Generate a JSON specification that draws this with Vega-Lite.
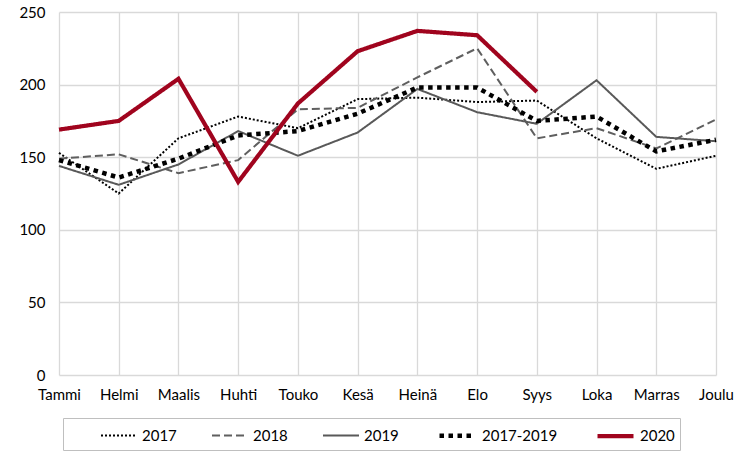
{
  "$schema": "https://vega.github.io/schema/vega-lite/v6.json",
  "autosize": "none",
  "width": 657,
  "height": 363,
  "padding": {"left": 59, "top": 12, "right": 24, "bottom": 79},
  "background": "white",
  "config": {
    "view": {"stroke": null},
    "font": "Lato",
    "axis": {"grid": true, "gridColor": "#d9d9d9", "gridWidth": 1.3, "domain": false, "ticks": false, "labelFont": "Lato", "labelFontSize": 15, "labelColor": "#000000", "title": null}
  },
  "data": {"values": [
    {"kk": "Tammi", "sarja": "2017", "v": 153},
    {"kk": "Helmi", "sarja": "2017", "v": 125},
    {"kk": "Maalis", "sarja": "2017", "v": 163},
    {"kk": "Huhti", "sarja": "2017", "v": 178},
    {"kk": "Touko", "sarja": "2017", "v": 170},
    {"kk": "Kesä", "sarja": "2017", "v": 190},
    {"kk": "Heinä", "sarja": "2017", "v": 191},
    {"kk": "Elo", "sarja": "2017", "v": 188},
    {"kk": "Syys", "sarja": "2017", "v": 189},
    {"kk": "Loka", "sarja": "2017", "v": 163},
    {"kk": "Marras", "sarja": "2017", "v": 142},
    {"kk": "Joulu", "sarja": "2017", "v": 151},
    {"kk": "Tammi", "sarja": "2018", "v": 149},
    {"kk": "Helmi", "sarja": "2018", "v": 152},
    {"kk": "Maalis", "sarja": "2018", "v": 139},
    {"kk": "Huhti", "sarja": "2018", "v": 148},
    {"kk": "Touko", "sarja": "2018", "v": 183},
    {"kk": "Kesä", "sarja": "2018", "v": 184},
    {"kk": "Heinä", "sarja": "2018", "v": 205},
    {"kk": "Elo", "sarja": "2018", "v": 225},
    {"kk": "Syys", "sarja": "2018", "v": 163},
    {"kk": "Loka", "sarja": "2018", "v": 170},
    {"kk": "Marras", "sarja": "2018", "v": 156},
    {"kk": "Joulu", "sarja": "2018", "v": 176},
    {"kk": "Tammi", "sarja": "2019", "v": 144},
    {"kk": "Helmi", "sarja": "2019", "v": 131},
    {"kk": "Maalis", "sarja": "2019", "v": 145},
    {"kk": "Huhti", "sarja": "2019", "v": 168},
    {"kk": "Touko", "sarja": "2019", "v": 151},
    {"kk": "Kesä", "sarja": "2019", "v": 167},
    {"kk": "Heinä", "sarja": "2019", "v": 197},
    {"kk": "Elo", "sarja": "2019", "v": 181},
    {"kk": "Syys", "sarja": "2019", "v": 173},
    {"kk": "Loka", "sarja": "2019", "v": 203},
    {"kk": "Marras", "sarja": "2019", "v": 164},
    {"kk": "Joulu", "sarja": "2019", "v": 161},
    {"kk": "Tammi", "sarja": "2017-2019", "v": 148},
    {"kk": "Helmi", "sarja": "2017-2019", "v": 136},
    {"kk": "Maalis", "sarja": "2017-2019", "v": 149},
    {"kk": "Huhti", "sarja": "2017-2019", "v": 165},
    {"kk": "Touko", "sarja": "2017-2019", "v": 168},
    {"kk": "Kesä", "sarja": "2017-2019", "v": 180},
    {"kk": "Heinä", "sarja": "2017-2019", "v": 198},
    {"kk": "Elo", "sarja": "2017-2019", "v": 198},
    {"kk": "Syys", "sarja": "2017-2019", "v": 175},
    {"kk": "Loka", "sarja": "2017-2019", "v": 178},
    {"kk": "Marras", "sarja": "2017-2019", "v": 154},
    {"kk": "Joulu", "sarja": "2017-2019", "v": 162},
    {"kk": "Tammi", "sarja": "2020", "v": 169},
    {"kk": "Helmi", "sarja": "2020", "v": 175},
    {"kk": "Maalis", "sarja": "2020", "v": 204},
    {"kk": "Huhti", "sarja": "2020", "v": 133},
    {"kk": "Touko", "sarja": "2020", "v": 187},
    {"kk": "Kesä", "sarja": "2020", "v": 223},
    {"kk": "Heinä", "sarja": "2020", "v": 237},
    {"kk": "Elo", "sarja": "2020", "v": 234},
    {"kk": "Syys", "sarja": "2020", "v": 195}
  ]},
  "mark": {"type": "line", "strokeJoin": "miter"},
  "encoding": {
    "x": {
      "field": "kk", "type": "ordinal",
      "sort": ["Tammi", "Helmi", "Maalis", "Huhti", "Touko", "Kesä", "Heinä", "Elo", "Syys", "Loka", "Marras", "Joulu"],
      "scale": {"type": "point", "padding": 0},
      "axis": {"labelAngle": 0, "labelPadding": 12}
    },
    "y": {
      "field": "v", "type": "quantitative",
      "scale": {"domain": [0, 250], "nice": false},
      "axis": {"values": [0, 50, 100, 150, 200, 250], "labelPadding": 14}
    },
    "color": {
      "field": "sarja", "type": "ordinal", "title": " ",
      "sort": ["2017", "2018", "2019", "2017-2019", "2020"],
      "scale": {"type": "ordinal", "domain": ["2017", "2018", "2019", "2017-2019", "2020"], "range": ["#000000", "#5f5f5f", "#595959", "#000000", "#A0041E"]},
      "legend": {
        "orient": "none", "legendX": 4, "legendY": 406, "direction": "horizontal",
        "symbolType": "M-1,0H2.6", "symbolSize": 400, "labelFontSize": 15, "labelFont": "Lato",
        "labelColor": "#000000", "columnPadding": 31, "labelOffset": 20,
        "padding": 5, "strokeColor": "#bfbfbf", "fillColor": "white",
        "titleOrient": "left", "titlePadding": 32, "titleFontSize": 15,
        "labelExpr": "datum.label == '2020' ? '2020              ' : datum.label"
      }
    },
    "strokeDash": {
      "field": "sarja", "type": "ordinal", "title": " ",
      "sort": ["2017", "2018", "2019", "2017-2019", "2020"],
      "scale": {"type": "ordinal", "domain": ["2017", "2018", "2019", "2017-2019", "2020"], "range": [[2, 2], [8, 4], [1, 0], [4.5, 4.5], [1, 0]]}
    },
    "strokeWidth": {
      "field": "sarja", "type": "ordinal", "title": " ",
      "sort": ["2017", "2018", "2019", "2017-2019", "2020"],
      "scale": {"type": "ordinal", "domain": ["2017", "2018", "2019", "2017-2019", "2020"], "range": [2, 2, 2, 4.5, 4.2]}
    }
  }
}
